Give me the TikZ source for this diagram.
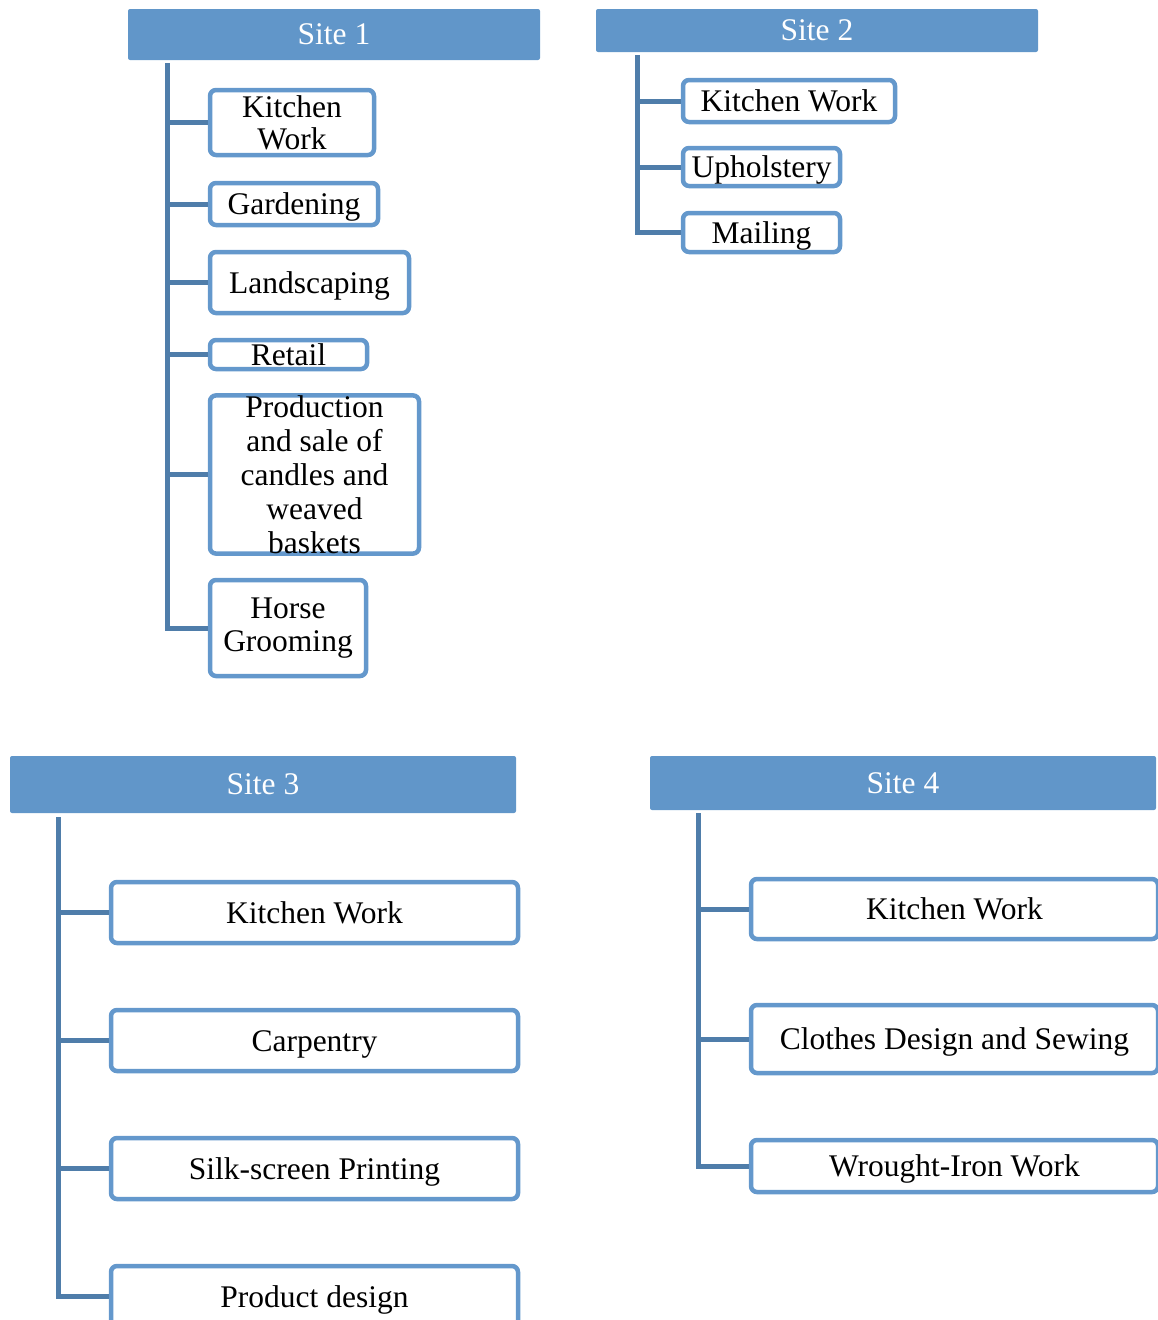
\documentclass[tikz,border=0pt]{standalone}
\usepackage{fontspec}
\setmainfont{Liberation Serif}
\definecolor{hdr}{RGB}{97,150,201}
\definecolor{bord}{RGB}{100,152,204}
\definecolor{conn}{RGB}{79,125,170}
\begin{document}
\begin{tikzpicture}[x=1pt,y=-1pt,
  every node/.style={font=\fontsize{31.5}{34}\selectfont, inner sep=0pt},
  header/.style={fill=hdr, text=white, rounded corners=2pt},
  itembox/.style={draw=bord, line width=4.5pt, fill=white, rounded corners=6pt, align=center},
  one/.style={text height=21pt, text depth=0pt},
  connline/.style={draw=conn, line width=5pt}]
\useasboundingbox (0,0) rectangle (1158,1320);
% headers
\node[header, minimum width=412pt, minimum height=51pt] (s1) at (334,34.5) {Site 1};
\node[header, minimum width=442pt, minimum height=43pt] (s2) at (817,30.5) {Site 2};
\node[header, minimum width=506pt, minimum height=57pt] (s3) at (263,784.5) {Site 3};
\node[header, minimum width=506pt, minimum height=54pt] (s4) at (903,783) {Site 4};
% trunk tops
\coordinate (t1) at (167,63);
\coordinate (t2) at (637,55);
\coordinate (t3) at (58,817);
\coordinate (t4) at (698,813);
% Site 1 boxes
\node[itembox, minimum width=164pt, minimum height=65pt, font=\fontsize{31.5}{32}\selectfont] (k1) at (292,122.5) {Kitchen\\Work};
\node[itembox, one, minimum width=168pt, minimum height=42pt] (g1) at (294,204) {Gardening};
\node[itembox, one, minimum width=199pt, minimum height=61pt] (l1) at (309.5,282.5) {Landscaping};
\node[itembox, one, minimum width=157pt, minimum height=29pt] (r1) at (288.5,354.5) {Retail};
\node[itembox, minimum width=209pt, minimum height=155pt] (p1) at (314.5,474.5) {Production\\and sale of\\candles and\\weaved\\baskets};
\node[itembox, minimum width=156pt, minimum height=96pt, font=\fontsize{31.5}{33}\selectfont] (h1) at (288,628) {\raisebox{-4pt}{Horse}\\\raisebox{-4pt}{Grooming}};
% Site 2 boxes
\node[itembox, one, minimum width=212pt, minimum height=42pt] (k2) at (789,101) {Kitchen Work};
\node[itembox, one, minimum width=157pt, minimum height=38pt] (u2) at (761.5,167) {Upholstery};
\node[itembox, one, minimum width=157pt, minimum height=39pt] (m2) at (761.5,232.5) {Mailing};
% Site 3 boxes
\node[itembox, one, minimum width=407pt, minimum height=61pt] (k3) at (314.5,912.5) {Kitchen Work};
\node[itembox, one, minimum width=407pt, minimum height=61pt] (c3) at (314.5,1040.5) {Carpentry};
\node[itembox, one, minimum width=407pt, minimum height=61pt] (s3b) at (314.5,1168.5) {Silk-screen Printing};
\node[itembox, one, minimum width=407pt, minimum height=61pt] (d3) at (314.5,1296.5) {Product design};
% Site 4 boxes
\node[itembox, one, minimum width=407pt, minimum height=60pt] (k4) at (954.5,909) {Kitchen Work};
\node[itembox, one, minimum width=407pt, minimum height=68pt] (c4) at (954.5,1039) {Clothes Design and Sewing};
\node[itembox, one, minimum width=407pt, minimum height=52pt] (w4) at (954.5,1166) {Wrought-Iron Work};
% connectors
\foreach \b in {k1,g1,l1,r1,p1,h1} \draw[connline] (t1) |- (\b.west);
\foreach \b in {k2,u2,m2} \draw[connline] (t2) |- (\b.west);
\foreach \b in {k3,c3,s3b,d3} \draw[connline] (t3) |- (\b.west);
\foreach \b in {k4,c4,w4} \draw[connline] (t4) |- (\b.west);
\end{tikzpicture}
\end{document}
